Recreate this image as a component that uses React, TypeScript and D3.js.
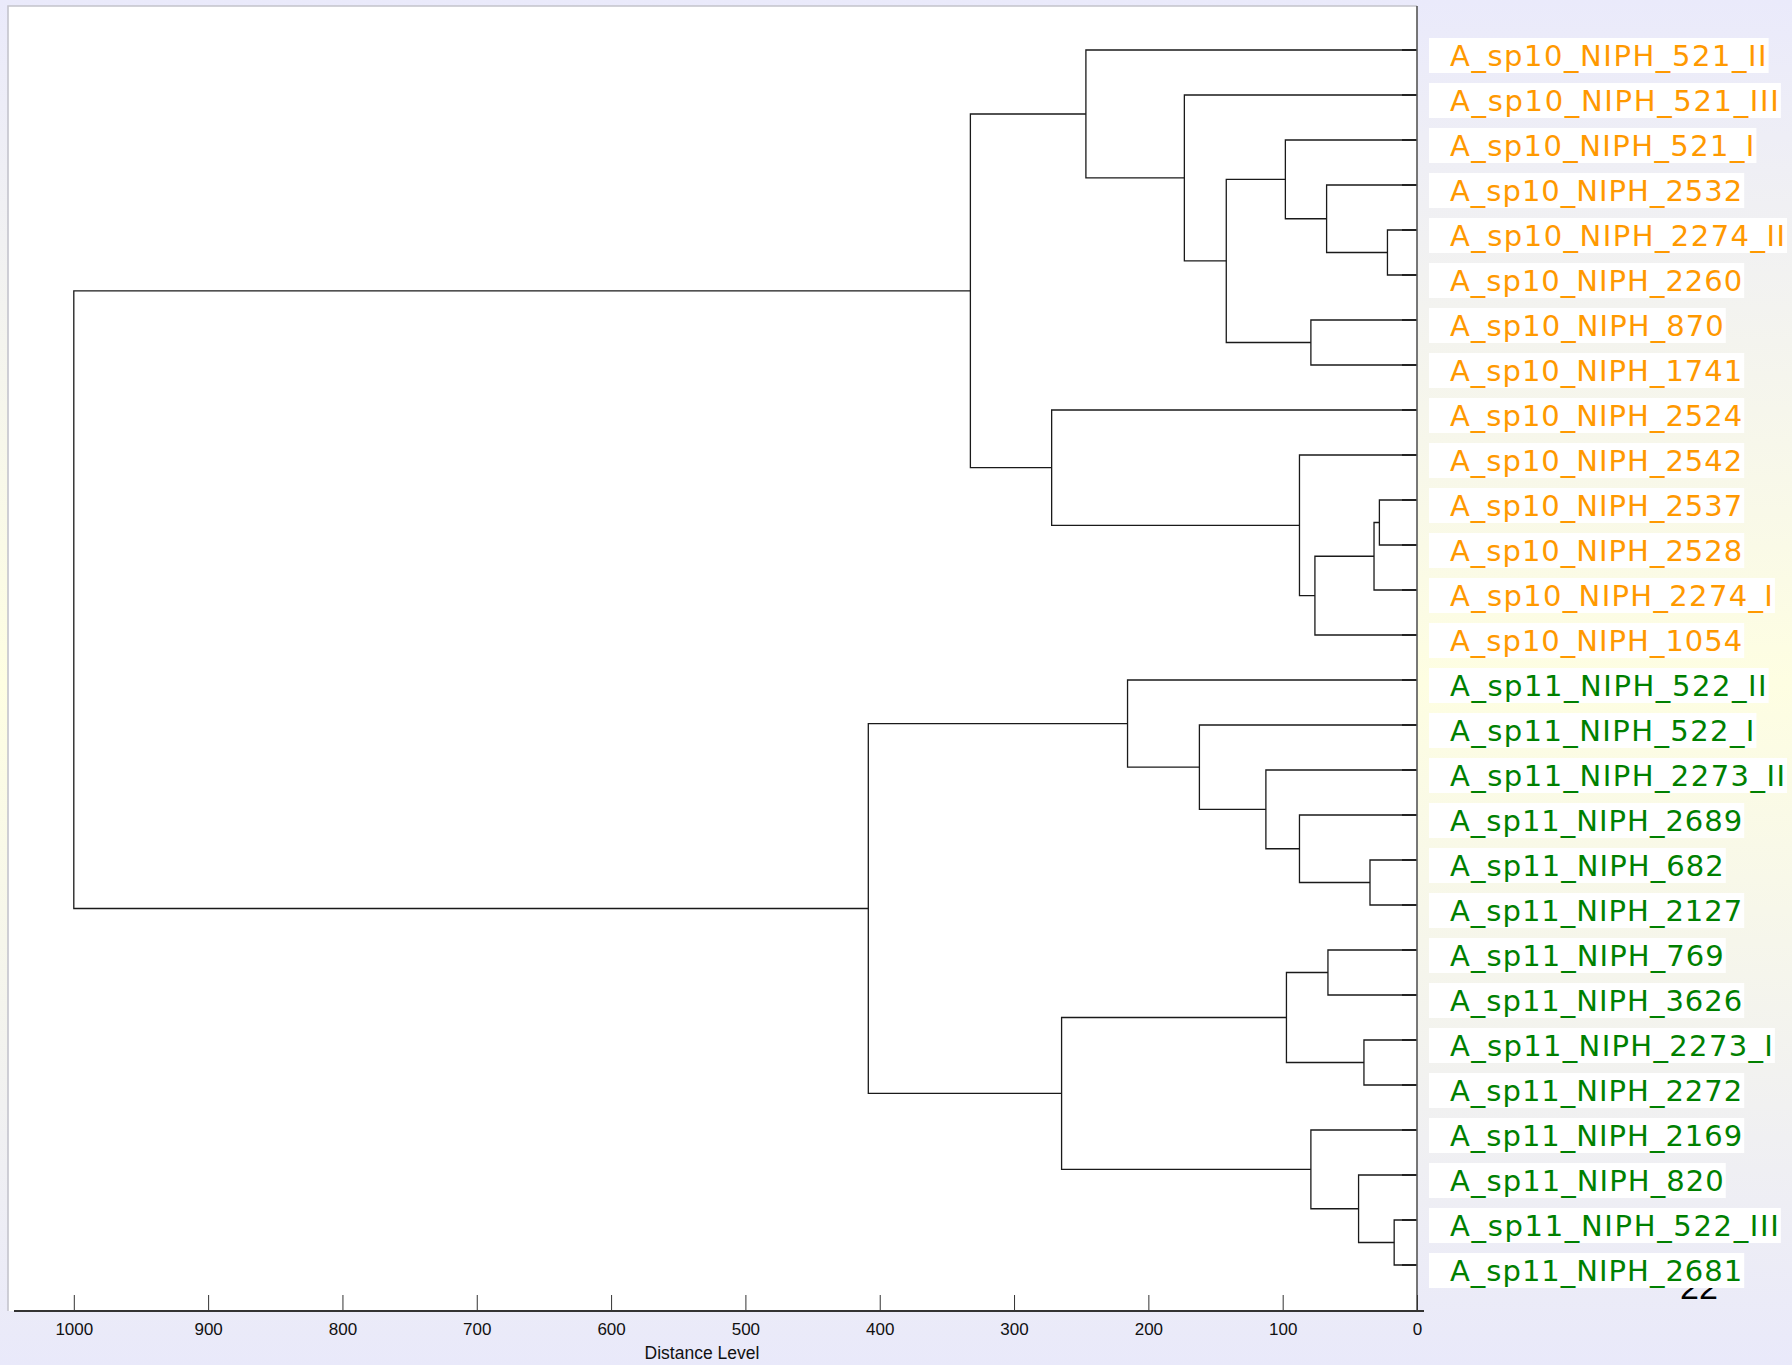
import React, { useEffect, useRef } from "react";
import * as d3 from "d3";

// leaves, top to bottom
const leafNames = [
  "A_sp10_NIPH_521_II",
  "A_sp10_NIPH_521_III",
  "A_sp10_NIPH_521_I",
  "A_sp10_NIPH_2532",
  "A_sp10_NIPH_2274_II",
  "A_sp10_NIPH_2260",
  "A_sp10_NIPH_870",
  "A_sp10_NIPH_1741",
  "A_sp10_NIPH_2524",
  "A_sp10_NIPH_2542",
  "A_sp10_NIPH_2537",
  "A_sp10_NIPH_2528",
  "A_sp10_NIPH_2274_I",
  "A_sp10_NIPH_1054",
  "A_sp11_NIPH_522_II",
  "A_sp11_NIPH_522_I",
  "A_sp11_NIPH_2273_II",
  "A_sp11_NIPH_2689",
  "A_sp11_NIPH_682",
  "A_sp11_NIPH_2127",
  "A_sp11_NIPH_769",
  "A_sp11_NIPH_3626",
  "A_sp11_NIPH_2273_I",
  "A_sp11_NIPH_2272",
  "A_sp11_NIPH_2169",
  "A_sp11_NIPH_820",
  "A_sp11_NIPH_522_III",
  "A_sp11_NIPH_2681",
];

// linkage: [left, right, distance]; ids >= 28 refer to earlier merges
const linkage: [number, number, number][] = [
  [26, 27, 17], // 28
  [4, 5, 22], // 29
  [10, 11, 28], // 30
  [30, 12, 32], // 31
  [18, 19, 35], // 32
  [22, 23, 39.5], // 33
  [25, 28, 43.5], // 34
  [20, 21, 66.3], // 35
  [3, 29, 67.3], // 36
  [31, 13, 76], // 37
  [6, 7, 79], // 38
  [24, 34, 79], // 39
  [9, 37, 87.5], // 40
  [17, 32, 87.5], // 41
  [35, 33, 97.2], // 42
  [2, 36, 98], // 43
  [16, 41, 112.5], // 44
  [43, 38, 142], // 45
  [15, 44, 162], // 46
  [1, 45, 173.2], // 47
  [14, 46, 215.5], // 48
  [0, 47, 246.5], // 49
  [42, 39, 264.6], // 50
  [8, 40, 272], // 51
  [49, 51, 332.5], // 52
  [48, 50, 408.5], // 53
  [52, 53, 1000], // 54
];

const tickValues = [1000, 900, 800, 700, 600, 500, 400, 300, 200, 100, 0];

const groupColor: Record<string, string> = { sp10: "#ff9900", sp11: "#008000" };

// verdana advance widths (em) used to size the labels like the original
const charW: Record<string, number> = {
  A: 0.684, _: 0.636, s: 0.521, p: 0.623, N: 0.748, I: 0.421, P: 0.603, H: 0.752,
};
const textW = (s: string, size: number) =>
  s.split("").reduce((acc, c) => acc + (charW[c] ?? 0.636), 0) * size;

const App = () => {
  const svgRef = useRef<SVGSVGElement>(null);

  useEffect(() => {
    const width = 1792;
    const height = 1365;
    const svg = d3.select(svgRef.current);
    svg.selectAll("*").remove();
    svg.attr("width", width).attr("height", height);

    const grad = svg
      .append("defs")
      .append("linearGradient")
      .attr("id", "bg")
      .attr("x1", 0)
      .attr("y1", 0)
      .attr("x2", 0)
      .attr("y2", 1);
    grad.append("stop").attr("offset", "0%").attr("stop-color", "#eaeafb");
    grad.append("stop").attr("offset", "50%").attr("stop-color", "#fefee2");
    grad.append("stop").attr("offset", "100%").attr("stop-color", "#e9e9fa");
    svg.append("rect").attr("width", width).attr("height", height).attr("fill", "url(#bg)");

    const x = d3.scaleLinear().domain([1000, 0]).range([73.8, 1417]);
    const y = d3.scalePoint<string>().domain(leafNames).range([50, 1265]);

    // plot panel
    svg
      .append("rect")
      .attr("x", 8)
      .attr("y", 6)
      .attr("width", 1409)
      .attr("height", 1305)
      .attr("fill", "#fff");
    svg
      .append("path")
      .attr("d", "M8,1311V6H1417")
      .attr("fill", "none")
      .attr("stroke", "#c4c4cc")
      .attr("stroke-width", 1.6);

    // tree
    type N = { y: number; h: number };
    const nodes: N[] = leafNames.map((n) => ({ y: y(n) as number, h: 0 }));
    const links: { a: N; b: N; h: number }[] = [];
    linkage.forEach(([ia, ib, h]) => {
      const a = nodes[ia];
      const b = nodes[ib];
      links.push({ a, b, h });
      nodes.push({ y: (a.y + b.y) / 2, h });
    });

    svg
      .append("g")
      .attr("fill", "none")
      .attr("stroke", "#1a1a1a")
      .attr("stroke-width", 1.3)
      .selectAll("path")
      .data(links)
      .join("path")
      .attr("d", (d) => `M${x(d.a.h)},${d.a.y}H${x(d.h)}V${d.b.y}H${x(d.b.h)}`);

    // short dark stubs at the leaf ends
    svg
      .append("g")
      .attr("stroke", "#222")
      .attr("stroke-width", 2)
      .selectAll("line")
      .data(leafNames)
      .join("line")
      .attr("x1", x(0) - 15)
      .attr("x2", x(0))
      .attr("y1", (d) => y(d) as number)
      .attr("y2", (d) => y(d) as number);

    // right edge line
    svg
      .append("line")
      .attr("x1", x(0))
      .attr("x2", x(0))
      .attr("y1", 6)
      .attr("y2", 1311)
      .attr("stroke", "#555")
      .attr("stroke-width", 1.6);

    // axis
    const gAxis = svg
      .append("g")
      .attr("transform", "translate(0,1311)")
      .call(
        d3
          .axisBottom(x)
          .tickValues(tickValues)
          .tickFormat(d3.format("d"))
          .tickSizeInner(-16)
          .tickSizeOuter(0)
          .tickPadding(12)
      );
    gAxis.select(".domain").remove();
    gAxis.attr("font-size", 17).attr("font-family", "'Liberation Sans', Arial, sans-serif");
    gAxis.selectAll("line").attr("stroke", "#333");
    gAxis.selectAll("text").attr("fill", "#111");
    svg
      .append("line")
      .attr("x1", 14)
      .attr("x2", 1424)
      .attr("y1", 1311)
      .attr("y2", 1311)
      .attr("stroke", "#333")
      .attr("stroke-width", 2);

    svg
      .append("text")
      .attr("x", 702)
      .attr("y", 1359)
      .attr("text-anchor", "middle")
      .attr("font-size", 17.5)
      .attr("font-family", "'Liberation Sans', Arial, sans-serif")
      .attr("fill", "#111")
      .text("Distance Level");

    // slide page number, partly covered by the last label
    svg
      .append("text")
      .attr("x", 1680)
      .attr("y", 1299)
      .attr("font-size", 34)
      .attr("font-family", "'Liberation Sans', Arial, sans-serif")
      .attr("fill", "#000")
      .text("22");

    // labels
    const fs = 29;
    const lab = svg
      .append("g")
      .selectAll("g")
      .data(leafNames)
      .join("g")
      .attr("transform", (d) => `translate(0,${y(d)})`);
    lab
      .append("rect")
      .attr("x", 1429)
      .attr("y", -12)
      .attr("width", (d) => 21 + textW(d, fs) + 2)
      .attr("height", 35)
      .attr("fill", "#fff");
    lab
      .append("text")
      .attr("x", 1450)
      .attr("y", 16)
      .attr("font-size", fs)
      .attr("font-family", "'DejaVu Sans', Verdana, sans-serif")
      .attr("textLength", (d) => textW(d, fs))
      .attr("lengthAdjust", "spacing")
      .attr("fill", (d) => groupColor[d.slice(2, 6)])
      .text((d) => d);
  }, []);

  return (
    <svg
      ref={svgRef}
      style={{ position: "absolute", left: 0, top: 0, display: "block" }}
    ></svg>
  );
};

export default App;
